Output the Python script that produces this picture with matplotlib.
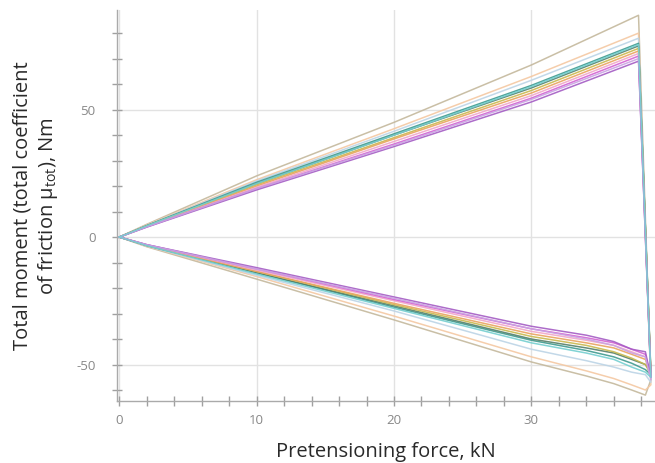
import matplotlib
matplotlib.use("Agg")
import matplotlib.pyplot as plt
from matplotlib.ticker import MultipleLocator

plt.rcParams['font.family'] = ['Open Sans', 'DejaVu Sans']
plt.rcParams['mathtext.fontset'] = 'custom'
plt.rcParams['mathtext.rm'] = 'Open Sans'
plt.rcParams['axes.unicode_minus'] = False

# Knot positions (kN)
x_up = [0, 2, 10, 20, 30, 37.8]
x_low = [0, 2, 10, 20, 30, 34, 36, 37.3, 38.3, 38.7]

colors = ['#c4b89c', '#f4c8a2', '#bcd4e6', '#3f9a8f', '#55806a', '#c9b84e',
          '#e9a35e', '#f0a6c8', '#d462d2', '#a45cc4', '#c9a3e2', '#74cfd0']

# Upper branch values (Nm) at x_up, per series
up_vals = [
    [0, 5.0, 24.0, 45.0, 67.5, 87],
    [0, 4.8, 22.5, 42.5, 63.0, 80],
    [0, 4.6, 22.0, 41.5, 61.5, 78],
    [0, 4.5, 21.5, 40.5, 59.5, 76],
    [0, 4.4, 21.0, 40.0, 58.5, 75],
    [0, 4.3, 20.5, 39.0, 57.5, 74],
    [0, 4.2, 20.0, 38.5, 56.5, 73],
    [0, 4.1, 19.5, 37.5, 55.5, 72],
    [0, 4.0, 19.0, 36.5, 54.5, 71],
    [0, 3.9, 18.5, 35.5, 53.0, 69],
    [0, 4.0, 19.0, 36.0, 54.0, 70],
    [0, 4.4, 21.0, 40.0, 59.0, 75.5],
]

# Lower branch values (Nm) at x_low, per series
low_vals = [
    [0, -3.8, -16.5, -32.5, -49.0, -54.5, -57.5, -60.0, -62.0, -56],
    [0, -3.6, -15.5, -31.0, -47.0, -52.5, -55.5, -58.0, -60.0, -58],
    [0, -3.5, -15.0, -29.0, -44.0, -48.5, -51.0, -53.0, -54.0, -57],
    [0, -3.3, -14.0, -27.5, -40.5, -44.5, -47.0, -49.5, -52.0, -54],
    [0, -3.3, -14.0, -27.0, -40.0, -43.5, -45.5, -48.0, -50.0, -53],
    [0, -3.2, -13.5, -26.5, -39.0, -42.5, -45.0, -47.5, -50.0, -54],
    [0, -3.2, -13.5, -26.0, -38.0, -41.5, -43.5, -46.0, -48.0, -54],
    [0, -3.1, -13.0, -25.0, -37.0, -40.5, -42.5, -45.0, -47.0, -55],
    [0, -3.0, -12.5, -24.5, -36.0, -39.5, -41.5, -44.0, -46.0, -55],
    [0, -3.0, -12.0, -23.5, -35.0, -38.5, -41.0, -44.0, -45.0, -55],
    [0, -3.0, -12.5, -24.0, -36.0, -40.0, -42.5, -45.5, -47.0, -56],
    [0, -3.4, -14.5, -28.0, -41.5, -45.5, -48.0, -51.0, -53.0, -55],
]

fig = plt.figure(figsize=(6.55, 4.63), dpi=100)
ax = fig.add_axes([0.179, 0.134, 0.821, 0.844])

for c, uv, lv in zip(colors, up_vals, low_vals):
    xs = list(x_up) + list(reversed(x_low))
    ys = list(uv) + list(reversed(lv))
    ax.plot(xs, ys, color=c, lw=1.1, alpha=0.9)

ax.set_xlim(-0.15, 39.0)
ax.set_ylim(-64.3, 89)
ax.xaxis.set_major_locator(MultipleLocator(10))
ax.xaxis.set_minor_locator(MultipleLocator(2))
ax.yaxis.set_major_locator(MultipleLocator(50))
ax.yaxis.set_minor_locator(MultipleLocator(10))
ax.grid(True, which='major', color='#e2e2e2', lw=1.0)
ax.set_axisbelow(True)

for s in ['top', 'right']:
    ax.spines[s].set_visible(False)
for s in ['left', 'bottom']:
    ax.spines[s].set_color('#aaaaaa')
    ax.spines[s].set_linewidth(1.0)

ax.tick_params(which='both', direction='inout', color='#a0a0a0', labelcolor='#888888',
               labelsize=9.5)
ax.tick_params(which='major', length=7, width=1.0)
ax.tick_params(which='minor', length=7, width=1.0)
ax.tick_params(axis='x', pad=6)
ax.tick_params(axis='y', pad=12)

ax.set_xlabel('Pretensioning force, kN', fontsize=14.5, color='#2a2a2a')
ax.xaxis.set_label_coords(0.5, -0.106)
ax.set_ylabel('Total moment (total coefficient\nof friction μ$_{\\mathrm{tot}}$), Nm',
              fontsize=14.5, color='#2a2a2a', linespacing=1.2)
ax.yaxis.set_label_coords(-0.107, 0.5)

fig.savefig('out.png', dpi=100)
